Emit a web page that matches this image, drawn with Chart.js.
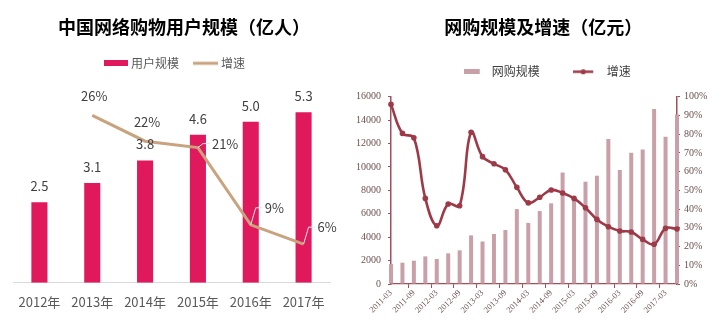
<!DOCTYPE html>
<html><head><meta charset="utf-8">
<script src="https://cdn.jsdelivr.net/npm/chart.js@4.4.0/dist/chart.umd.min.js"></script>
<style>
html,body{margin:0;padding:0;background:#fff;}
#w1{position:absolute;left:0;top:0;width:355px;height:325px;}
#w2{position:absolute;left:355px;top:0;width:367px;height:325px;}
</style></head><body>
<div id="w1"><canvas id="c1"></canvas></div>
<div id="w2"><canvas id="c2"></canvas></div>
<script>
// ---------- data: left chart ----------
const years = ['2012年','2013年','2014年','2015年','2016年','2017年'];
const users = [2.5, 3.1, 3.8, 4.6, 5.0, 5.3];
const userGrowth = [null, 26, 22, 21, 9, 6];

// ---------- data: right chart ----------
const quarters = ['2011-03','2011-06','2011-09','2011-12','2012-03','2012-06','2012-09','2012-12',
  '2013-03','2013-06','2013-09','2013-12','2014-03','2014-06','2014-09','2014-12',
  '2015-03','2015-06','2015-09','2015-12','2016-03','2016-06','2016-09','2016-12',
  '2017-03','2017-06'];
const salesValues = [1700,1820,1990,2360,2135,2620,2875,4150,3630,4270,4610,6400,5220,6230,
  6890,9520,7180,8740,9250,12380,9740,11220,11500,14950,12580,14490];
const salesGrowth = [95.9,80.4,78.1,45.7,31.1,42.7,41.8,81.0,68.0,64.2,61.0,51.6,43.3,46.3,
  50.2,48.6,45.7,40.7,34.5,30.6,28.3,27.8,23.8,21.2,29.7,29.4];
const leftTicks = [0,2000,4000,6000,8000,10000,12000,14000,16000];
const rightTicks = [0,10,20,30,40,50,60,70,80,90,100];

const CJK = '"Noto Sans CJK SC","Noto Sans",sans-serif';
const SERIF = '"Liberation Serif","DejaVu Serif",serif';

function mkCanvas(w,h,draw){const c=document.createElement('canvas');c.width=w;c.height=h;draw(c.getContext('2d'));return c;}

function legendGap(extra){
  return {id:'legendGap',beforeInit(chart){const f=chart.legend.fit;chart.legend.fit=function(){f.bind(chart.legend)();this.height+=extra;};}};
}
function shiftBlocks(tShift,lShift){
  return {id:'shiftBlocks',afterLayout(chart){
    if(chart.titleBlock){chart.titleBlock.left+=tShift;chart.titleBlock.right+=tShift;}
    if(chart.legend){chart.legend.left+=lShift;chart.legend.right+=lShift;}
  }};
}

// ================= LEFT CHART =================
const barRed = '#E0185C';
const tan = '#C9A27E';
const leftLegendImgs = [
  mkCanvas(27,6,g=>{g.fillStyle=barRed;g.fillRect(3,0,24,6);}),
  mkCanvas(27,6,g=>{g.strokeStyle=tan;g.lineWidth=3;g.beginPath();g.moveTo(2,3);g.lineTo(27,3);g.stroke();})
];

const leftLabels = {
  id:'leftLabels',
  afterDatasetsDraw(chart){
    const ctx=chart.ctx;
    ctx.save();
    ctx.font='13px '+CJK;
    ctx.fillStyle='#404040';
    ctx.textBaseline='middle';
    ctx.textAlign='center';
    const bars=chart.getDatasetMeta(0).data;
    bars.forEach((b,i)=>ctx.fillText(users[i].toFixed(1), b.x, b.y-16));
    const pts=chart.getDatasetMeta(1).data;
    userGrowth.forEach((v,i)=>{
      if(v==null) return;
      const p=pts[i];
      const t=v+'%';
      if(i<=2){
        ctx.textAlign='center';
        ctx.fillText(t, p.x+2, p.y-19);
      } else {
        const dy = (i===3)?4:17;
        ctx.strokeStyle='#e6e6e6';ctx.lineWidth=1;
        ctx.beginPath();ctx.moveTo(p.x,p.y);ctx.lineTo(p.x+5,p.y-dy);ctx.lineTo(p.x+12,p.y-dy);ctx.stroke();
        ctx.textAlign='left';
        ctx.fillText(t, p.x+14, p.y-dy);
      }
    });
    ctx.restore();
  }
};

new Chart(document.getElementById('c1'),{
  data:{labels:years,datasets:[
    {type:'bar',label:'用户规模',data:users,backgroundColor:barRed,yAxisID:'y',
     barPercentage:0.38,categoryPercentage:0.8,order:1},
    {type:'line',label:'增速',data:userGrowth,borderColor:tan,backgroundColor:tan,borderWidth:3,
     pointRadius:0,tension:0,yAxisID:'y1',order:0,spanGaps:false}
  ]},
  options:{
    responsive:true,maintainAspectRatio:false,animation:false,
    layout:{padding:{left:13,right:25,top:0,bottom:0}},
    plugins:{
      tooltip:{enabled:false},
      title:{display:true,text:'中国网络购物用户规模（亿人）',color:'#000',
        font:{family:CJK,size:18,weight:'bold'},padding:{top:16,bottom:4.7}},
      legend:{display:true,position:'top',
        labels:{usePointStyle:true,pointStyleWidth:21,boxHeight:6,padding:15,color:'#595959',
          font:{family:CJK,size:12},
          generateLabels:()=>[
            {text:'用户规模',pointStyle:leftLegendImgs[0],fillStyle:barRed,strokeStyle:barRed,lineWidth:0,hidden:false,datasetIndex:0,fontColor:'#595959'},
            {text:'增速',pointStyle:leftLegendImgs[1],fillStyle:tan,strokeStyle:tan,lineWidth:0,hidden:false,datasetIndex:1,fontColor:'#595959'}
          ]}}
    },
    scales:{
      x:{grid:{display:false,drawTicks:false},border:{display:true,color:'#d9d9d9',width:1},
        ticks:{color:'#595959',font:{family:CJK,size:13},padding:11.5},
        afterFit(s){s.height=42.3;}},
      y:{display:false,min:0,max:6},
      y1:{display:false,min:0,max:30}
    }
  },
  plugins:[leftLabels,legendGap(10.4),shiftBlocks(12.5,3)]
});

// ================= RIGHT CHART =================
const pinkBar = '#C9A0A8';
const darkRed = '#9E3A48';
const axisC = '#A0505C';
const tickC = '#6E4F4F';
const rightLegendImgs = [
  mkCanvas(22,5,g=>{g.fillStyle=pinkBar;g.fillRect(0,0,16,5);}),
  mkCanvas(33,7,g=>{g.strokeStyle=darkRed;g.lineWidth=2.5;g.beginPath();g.moveTo(0,3.5);g.lineTo(20,3.5);g.stroke();
    g.fillStyle=darkRed;g.beginPath();g.arc(10,3.5,2.6,0,Math.PI*2);g.fill();})
];

new Chart(document.getElementById('c2'),{
  data:{labels:quarters,datasets:[
    {type:'line',label:'增速',data:salesGrowth,yAxisID:'y1',borderColor:darkRed,backgroundColor:darkRed,
     borderWidth:2.6,pointRadius:2.8,pointBorderWidth:0,pointBackgroundColor:darkRed,tension:0.4,order:0,clip:false},
    {type:'bar',label:'网购规模',data:salesValues,yAxisID:'y',backgroundColor:pinkBar,
     barPercentage:0.35,categoryPercentage:1,order:1,clip:false}
  ]},
  options:{
    responsive:true,maintainAspectRatio:false,animation:false,
    layout:{padding:{left:0,right:10,top:0,bottom:0}},
    plugins:{
      tooltip:{enabled:false},
      title:{display:true,text:'网购规模及增速（亿元）',color:'#000',
        font:{family:CJK,size:18,weight:'bold'},padding:{top:16,bottom:-10.9}},
      legend:{display:true,position:'top',
        labels:{usePointStyle:true,pointStyleWidth:22,boxHeight:7,padding:39,color:'#404040',
          font:{family:CJK,size:12},
          generateLabels:()=>[
            {text:'网购规模',pointStyle:rightLegendImgs[0],fillStyle:pinkBar,strokeStyle:pinkBar,lineWidth:0,hidden:false,datasetIndex:1,fontColor:'#404040'},
            {text:'增速',pointStyle:rightLegendImgs[1],fillStyle:darkRed,strokeStyle:darkRed,lineWidth:0,hidden:false,datasetIndex:0,fontColor:'#404040'}
          ]}}
    },
    scales:{
      x:{offset:false,
        grid:{display:true,drawOnChartArea:false,tickLength:4,
          color:(c)=> (c.index%2===0)?axisC:'rgba(0,0,0,0)'},
        border:{display:true,color:axisC,width:1.2},
        ticks:{autoSkip:false,maxRotation:45,minRotation:45,padding:0,color:tickC,
          font:{family:SERIF,size:8.5},
          callback:(v,i)=> (i%2===0)?quarters[i]:''},
        afterFit(s){s.height=41;}},
      y:{position:'left',min:0,max:16000,
        afterBuildTicks(s){s.ticks=leftTicks.map(v=>({value:v}));},
        grid:{display:true,drawOnChartArea:false,tickLength:3,color:axisC},
        border:{display:true,color:axisC,width:1.5},
        ticks:{color:tickC,font:{family:SERIF,size:10},padding:7,callback:v=>String(v)},
        afterFit(s){s.width=36;}},
      y1:{position:'right',min:0,max:100,
        afterBuildTicks(s){s.ticks=rightTicks.map(v=>({value:v}));},
        grid:{display:true,drawOnChartArea:false,tickLength:3,color:axisC},
        border:{display:true,color:axisC,width:1.5},
        ticks:{color:tickC,font:{family:SERIF,size:10},padding:4,callback:v=>v+'%'},
        afterFit(s){s.width=35;}}
    }
  },
  plugins:[legendGap(9),shiftBlocks(9.8,13.7)]
});
</script>
</body></html>
